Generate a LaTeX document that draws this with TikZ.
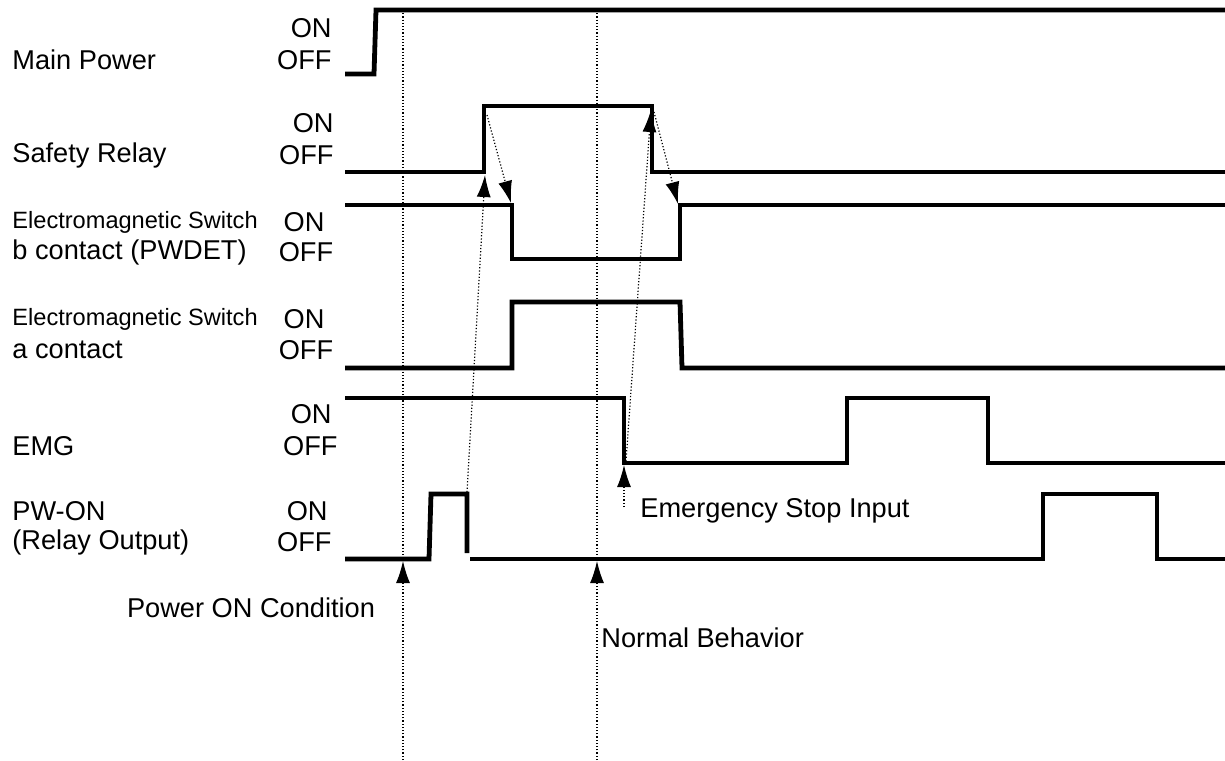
\documentclass[tikz,border=0pt]{standalone}
\usepackage{fontspec}
\setsansfont{Liberation Sans}
\usetikzlibrary{arrows.meta}

\begin{document}
\begin{tikzpicture}[
  x=0.5pt, y=-0.5pt,
  font=\fontsize{13.6}{16}\sffamily,
  sig/.style={line width=2.4pt},
  vline/.style={densely dotted, line width=0.6pt},
  arr/.style={densely dotted, line width=0.6pt, -{Latex[length=11pt,width=7pt]}},
  sname/.style={anchor=west, inner sep=0pt},
  smalltxt/.style={sname, font=\fontsize{11.8}{14}\sffamily},
  lvl/.style={anchor=east, inner sep=0pt},
  lvlc/.style={inner sep=0pt}
]
\useasboundingbox (0,0) rectangle (1225,760);

% signal names and levels
\node[sname] (mp) at (12,60) {Main Power};
\node[lvl] (mp-on) at (332,28) {ON};
\node[lvl] (mp-off) at (332,60) {OFF};

\node[sname] (sr) at (12,155) {Safety Relay};
\node[lvl] (sr-on) at (334,123) {ON};
\node[lvl] (sr-off) at (334,155) {OFF};

\node[smalltxt] (bc1) at (12,222) {Electromagnetic Switch};
\node[sname] (bc2) at (12,252) {b contact (PWDET)};
\node[lvlc] (bc-on) at (304,222) {ON};
\node[lvlc] (bc-off) at (306,252) {OFF};

\node[smalltxt] (ac1) at (12,319) {Electromagnetic Switch};
\node[sname] (ac2) at (12,350) {a contact};
\node[lvlc] (ac-on) at (304,319) {ON};
\node[lvlc] (ac-off) at (306,350) {OFF};

\node[sname] (emg) at (12,446) {EMG};
\node[lvl] (emg-on) at (332,414) {ON};
\node[lvl] (emg-off) at (338,446) {OFF};

\node[sname] (pw1) at (12,511) {PW-ON};
\node[sname] (pw2) at (12,542) {(Relay Output)};
\node[lvl] (pw-on) at (328,511) {ON};
\node[lvl] (pw-off) at (332,542) {OFF};

% waveforms
\draw[sig] (345,74) -- (374,74) -- (376,10) -- (1225,10);
\draw[sig] (345,172) -- (484,172) -- (484,106) -- (652,106) -- (652,172) -- (1225,172);
\draw[sig] (345,205) -- (512,205) -- (512,259) -- (680,259) -- (680,205) -- (1225,205);
\draw[sig] (345,368) -- (512,368) -- (512,302) -- (680,302) -- (682,368) -- (1225,368);
\draw[sig] (345,398) -- (624,398) -- (624,463) -- (847,463) -- (847,398) -- (988,398) -- (988,463) -- (1225,463);
\draw[sig] (345,559) -- (429,559) -- (431,494) -- (467,494) -- (467,553);
\draw[sig] (470,559) -- (1043,559) -- (1043,494) -- (1157,494) -- (1157,559) -- (1225,559);

% edge points
\coordinate (pc-top) at (403,10);
\coordinate (pc-tip) at (403,561);
\coordinate (pc-bot) at (403,760);
\coordinate (nb-top) at (597,10);
\coordinate (nb-tip) at (597,561);
\coordinate (nb-bot) at (597,760);
\coordinate (pw-fall) at (467,492);
\coordinate (sr-rise) at (485,175);
\coordinate (sr-rtop) at (487,115);
\coordinate (bc-fall) at (511,203);
\coordinate (emg-fall) at (626,461);
\coordinate (sr-fall) at (651,110);
\coordinate (sr-ftop) at (654,112);
\coordinate (bc-rise) at (678,204);
\coordinate (es-bot) at (624,507);
\coordinate (es-tip) at (624,465);

% timing marks
\draw[vline] (pc-top) -- (pc-tip);
\draw[arr] (pc-bot) -- (pc-tip);
\draw[vline] (nb-top) -- (nb-tip);
\draw[arr] (nb-bot) -- (nb-tip);
\draw[arr] (pw-fall) -- (sr-rise);
\draw[arr] (sr-rtop) -- (bc-fall);
\draw[arr] (emg-fall) -- (sr-fall);
\draw[arr] (sr-ftop) -- (bc-rise);
\draw[arr] (es-bot) -- (es-tip);

\node[inner sep=0pt] (pcond) at (251,608) {Power ON Condition};
\node[sname] (normal) at (601,638) {Normal Behavior};
\node[sname] (estop) at (640,511) {Emergency Stop Input};
\end{tikzpicture}
\end{document}
